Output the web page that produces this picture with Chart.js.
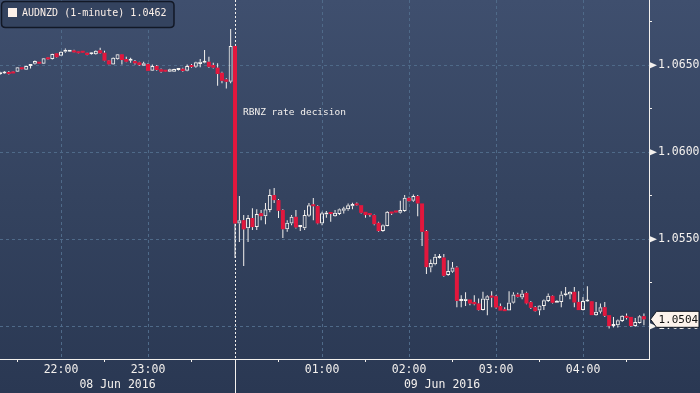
<!DOCTYPE html>
<html><head><meta charset="utf-8">
<script src="https://cdn.jsdelivr.net/npm/chart.js@4.4.0/dist/chart.umd.min.js"></script>
<style>html,body{margin:0;padding:0;background:#2c3a56;overflow:hidden}#wrap{width:700px;height:393px;position:relative}canvas{display:block}</style>
</head><body><div id="wrap"><canvas id="c" width="700" height="393"></canvas></div>
<script>
// ---- data (3-minute candles, minutes relative to 00:00 09 Jun 2016) ----
const firstCandleMinute = -162; // 21:18, 08 Jun
const candleMinutes = 3;
const opens = [
1.06448,1.06453,1.06459,1.06463,1.06463,1.06488,1.06474,1.06496,1.06509,1.06514,
1.06509,1.06543,1.06536,1.06569,1.06555,1.06578,1.06578,1.06584,1.06578,1.06578,
1.06572,1.06563,1.06563,1.06586,1.06572,1.06528,1.06505,1.06534,1.06563,1.06536,
1.06526,1.06524,1.06517,1.06497,1.06507,1.06468,1.06496,1.06477,1.06468,1.06463,
1.06463,1.06473,1.06480,1.06468,1.06497,1.06491,1.06507,1.06514,1.06520,1.06501,
1.06486,1.06457,1.06419,1.06405,1.06610,1.05591,1.05610,1.05564,1.05622,1.05570,
1.05650,1.05633,1.05668,1.05754,1.05725,1.05668,1.05558,1.05591,1.05629,1.05570,
1.05564,1.05635,1.05696,1.05691,1.05591,1.05643,1.05649,1.05633,1.05645,1.05664,
1.05672,1.05690,1.05698,1.05696,1.05658,1.05648,1.05639,1.05595,1.05547,1.05577,
1.05658,1.05658,1.05652,1.05662,1.05738,1.05721,1.05748,1.05706,1.05548,1.05338,
1.05357,1.05393,1.05395,1.05294,1.05313,1.05338,1.05146,1.05146,1.05154,1.05140,
1.05131,1.05093,1.05150,1.05173,1.05173,1.05116,1.05093,1.05090,1.05135,1.05183,
1.05165,1.05192,1.05139,1.05110,1.05090,1.05116,1.05146,1.05175,1.05135,1.05140,
1.05179,1.05183,1.05198,1.05140,1.05093,1.05142,1.05144,1.05064,1.05083,1.05110,
1.05064,1.05001,1.05006,1.05031,1.05060,1.05054,1.05002,1.05019,1.05058];
const highs = [
1.06463,1.06467,1.06467,1.06465,1.06490,1.06490,1.06497,1.06504,1.06528,1.06516,
1.06541,1.06546,1.06566,1.06570,1.06580,1.06597,1.06584,1.06589,1.06579,1.06579,
1.06573,1.06574,1.06586,1.06601,1.06584,1.06530,1.06546,1.06565,1.06565,1.06549,
1.06543,1.06530,1.06520,1.06520,1.06511,1.06505,1.06501,1.06482,1.06470,1.06480,
1.06480,1.06480,1.06486,1.06505,1.06507,1.06520,1.06536,1.06588,1.06549,1.06514,
1.06511,1.06463,1.06425,1.06708,1.06610,1.05748,1.05639,1.05639,1.05679,1.05673,
1.05668,1.05708,1.05788,1.05794,1.05731,1.05673,1.05610,1.05639,1.05668,1.05581,
1.05668,1.05708,1.05737,1.05696,1.05658,1.05663,1.05650,1.05668,1.05677,1.05687,
1.05706,1.05710,1.05712,1.05696,1.05658,1.05648,1.05643,1.05600,1.05585,1.05663,
1.05658,1.05660,1.05721,1.05754,1.05744,1.05758,1.05754,1.05706,1.05553,1.05384,
1.05415,1.05415,1.05415,1.05380,1.05370,1.05345,1.05179,1.05196,1.05154,1.05179,
1.05160,1.05198,1.05179,1.05202,1.05179,1.05131,1.05110,1.05202,1.05196,1.05192,
1.05208,1.05198,1.05146,1.05116,1.05121,1.05154,1.05189,1.05179,1.05150,1.05202,
1.05226,1.05202,1.05226,1.05202,1.05169,1.05230,1.05146,1.05140,1.05131,1.05140,
1.05064,1.05054,1.05039,1.05064,1.05073,1.05054,1.05048,1.05064,1.05073];
const lows = [
1.06444,1.06450,1.06447,1.06452,1.06461,1.06475,1.06473,1.06482,1.06505,1.06507,
1.06507,1.06532,1.06533,1.06543,1.06553,1.06572,1.06576,1.06572,1.06567,1.06570,
1.06557,1.06560,1.06560,1.06566,1.06523,1.06503,1.06503,1.06532,1.06505,1.06517,
1.06514,1.06505,1.06497,1.06496,1.06467,1.06467,1.06468,1.06457,1.06461,1.06461,
1.06461,1.06470,1.06463,1.06465,1.06486,1.06486,1.06488,1.06511,1.06486,1.06482,
1.06382,1.06396,1.06367,1.06396,1.05392,1.05485,1.05346,1.05484,1.05553,1.05553,
1.05610,1.05587,1.05656,1.05708,1.05622,1.05508,1.05543,1.05581,1.05562,1.05547,
1.05553,1.05629,1.05610,1.05587,1.05581,1.05623,1.05600,1.05629,1.05639,1.05648,
1.05664,1.05672,1.05692,1.05648,1.05623,1.05629,1.05581,1.05543,1.05543,1.05575,
1.05639,1.05652,1.05648,1.05658,1.05715,1.05715,1.05633,1.05462,1.05300,1.05311,
1.05351,1.05390,1.05284,1.05290,1.05307,1.05110,1.05110,1.05116,1.05121,1.05121,
1.05090,1.05090,1.05064,1.05110,1.05102,1.05090,1.05087,1.05090,1.05131,1.05165,
1.05156,1.05127,1.05100,1.05083,1.05064,1.05093,1.05140,1.05131,1.05135,1.05110,
1.05173,1.05156,1.05110,1.05093,1.05090,1.05140,1.05064,1.05060,1.05073,1.05054,
1.04987,1.04993,1.04993,1.05025,1.05039,1.04997,1.04997,1.05016,1.05006];
const closes = [
1.06459,1.06463,1.06450,1.06453,1.06488,1.06477,1.06496,1.06501,1.06524,1.06509,
1.06540,1.06534,1.06565,1.06546,1.06578,1.06589,1.06582,1.06574,1.06569,1.06572,
1.06559,1.06572,1.06584,1.06569,1.06526,1.06505,1.06543,1.06563,1.06530,1.06520,
1.06528,1.06511,1.06501,1.06511,1.06468,1.06496,1.06473,1.06463,1.06463,1.06477,
1.06478,1.06477,1.06467,1.06496,1.06490,1.06517,1.06520,1.06524,1.06491,1.06486,
1.06450,1.06411,1.06405,1.06610,1.05591,1.05610,1.05557,1.05622,1.05570,1.05645,
1.05633,1.05673,1.05754,1.05725,1.05664,1.05558,1.05595,1.05629,1.05568,1.05575,
1.05639,1.05696,1.05690,1.05591,1.05650,1.05652,1.05645,1.05652,1.05673,1.05679,
1.05696,1.05702,1.05695,1.05652,1.05639,1.05639,1.05587,1.05547,1.05581,1.05658,
1.05648,1.05654,1.05668,1.05738,1.05719,1.05748,1.05706,1.05543,1.05340,1.05364,
1.05399,1.05397,1.05290,1.05318,1.05338,1.05146,1.05154,1.05158,1.05131,1.05127,
1.05093,1.05160,1.05173,1.05165,1.05108,1.05090,1.05087,1.05137,1.05183,1.05169,
1.05189,1.05131,1.05106,1.05087,1.05120,1.05150,1.05175,1.05135,1.05146,1.05183,
1.05189,1.05198,1.05137,1.05093,1.05146,1.05146,1.05064,1.05083,1.05110,1.05060,
1.05001,1.05012,1.05035,1.05060,1.05048,1.05002,1.05025,1.05058,1.05040];

// ---- axis / text content ----
const hourTickMinutes = [-120, -60, 60, 120, 180, 240];
const hourTickLabels = ['22:00', '23:00', '01:00', '02:00', '03:00', '04:00'];
const halfHourTickMinutes = [-150, -90, -30, 30, 90, 150, 210, 270];
const dayBreakMinute = 0;
const dateLabels = ['08 Jun 2016', '09 Jun 2016'];
const yMajorTicks = [1.0500, 1.0550, 1.0600, 1.0650];
const yMinorTicks = [1.0525, 1.0575, 1.0625, 1.0675];
const legendText = 'AUDNZD (1-minute) 1.0462';
const annotationText = 'RBNZ rate decision';
const lastPriceLabel = '1.0504';

// ---- view / style ----
const xMin = -162.07, xMax = 285.5;
const yMin = 1.04812, yMax = 1.06875;
const RED = '#e2173d';
const WHITE = '#f4f1ee';
const GRID = '#4f6a89';
const FONT = "'DejaVu Sans Mono', 'Liberation Mono', monospace";
const CLEAR = 'rgba(0,0,0,0)';

const times = opens.map((_, i) => firstCandleMinute + i * candleMinutes);
const isUp = i => closes[i] >= opens[i];
const bodies = opens.map((o, i) => ({x: times[i], y: [o, closes[i]]}));
const upperWicks = opens.map((o, i) => { const top = Math.max(o, closes[i]); return {x: times[i], y: [top, Math.max(highs[i], top)]}; });
const lowerWicks = opens.map((o, i) => { const bot = Math.min(o, closes[i]); return {x: times[i], y: [Math.min(lows[i], bot), bot]}; });

const near = (a, b) => Math.abs(a - b) < 1e-7;
const isMajorY = v => yMajorTicks.some(m => near(m, v));

const bgPlugin = {
  id: 'bg',
  beforeDraw(chart) {
    const {ctx, width, height} = chart;
    const g = ctx.createLinearGradient(0, 0, 0, height);
    g.addColorStop(0, '#3f4f6e');
    g.addColorStop(0.5, '#34435f');
    g.addColorStop(1, '#2a3853');
    ctx.save(); ctx.fillStyle = g; ctx.fillRect(0, 0, width, height); ctx.restore();
  },
  beforeDatasetsDraw(chart) {
    const {ctx, chartArea, scales: {x}} = chart;
    const px = Math.round(x.getPixelForValue(dayBreakMinute)) + 0.5;
    ctx.save();
    ctx.strokeStyle = WHITE; ctx.lineWidth = 1;
    ctx.setLineDash([2, 2]);
    ctx.beginPath(); ctx.moveTo(px, chartArea.top); ctx.lineTo(px, chartArea.bottom); ctx.stroke();
    ctx.setLineDash([]);
    ctx.beginPath(); ctx.moveTo(px, chartArea.bottom); ctx.lineTo(px, chart.height); ctx.stroke();
    ctx.restore();
  },
  afterDraw(chart) {
    const {ctx, chartArea, scales: {x, y}} = chart;
    ctx.save();
    // y major markers
    ctx.fillStyle = WHITE;
    yMajorTicks.forEach(v => {
      const py = y.getPixelForValue(v);
      ctx.beginPath(); ctx.moveTo(chartArea.right, py - 3.5); ctx.lineTo(chartArea.right, py + 3.5); ctx.lineTo(chartArea.right + 8, py); ctx.closePath(); ctx.fill();
    });
    // date labels
    ctx.font = '11.5px ' + FONT; ctx.textAlign = 'center'; ctx.textBaseline = 'middle'; ctx.fillStyle = WHITE;
    const pBreak = x.getPixelForValue(dayBreakMinute);
    ctx.fillText(dateLabels[0], (chartArea.left + pBreak) / 2, 385);
    ctx.fillText(dateLabels[1], (pBreak + chartArea.right) / 2, 385);
    // annotation
    ctx.font = '9.5px ' + FONT; ctx.textAlign = 'left'; ctx.textBaseline = 'alphabetic';
    ctx.fillText(annotationText, pBreak + 8, 115);
    // legend box
    ctx.font = '10px ' + FONT; ctx.textBaseline = 'middle';
    const tw = ctx.measureText(legendText).width;
    const bx = 1.5, by = 1.5, bw = 22 + tw + 6, bh = 26, r = 4;
    ctx.beginPath();
    ctx.moveTo(bx + r, by); ctx.lineTo(bx + bw - r, by); ctx.quadraticCurveTo(bx + bw, by, bx + bw, by + r);
    ctx.lineTo(bx + bw, by + bh - r); ctx.quadraticCurveTo(bx + bw, by + bh, bx + bw - r, by + bh);
    ctx.lineTo(bx + r, by + bh); ctx.quadraticCurveTo(bx, by + bh, bx, by + bh - r);
    ctx.lineTo(bx, by + r); ctx.quadraticCurveTo(bx, by, bx + r, by); ctx.closePath();
    ctx.fillStyle = '#34435f'; ctx.fill();
    ctx.strokeStyle = '#121826'; ctx.lineWidth = 1.5; ctx.stroke();
    ctx.fillStyle = '#fdf1ea'; ctx.fillRect(8, 8, 9, 9);
    ctx.fillText(legendText, 22, 13.5);
    // last price tag
    const lastClose = closes[closes.length - 1];
    const ty = y.getPixelForValue(lastClose);
    const ax = chartArea.right + 1.5;
    ctx.beginPath();
    ctx.moveTo(ax, ty); ctx.lineTo(ax + 6, ty - 8); ctx.lineTo(699, ty - 8); ctx.lineTo(699, ty + 8); ctx.lineTo(ax + 6, ty + 8); ctx.closePath();
    ctx.fillStyle = '#fdf3ec'; ctx.fill();
    ctx.strokeStyle = '#0f1520'; ctx.lineWidth = 1; ctx.stroke();
    ctx.fillStyle = '#111111'; ctx.font = '11px ' + FONT; ctx.textAlign = 'left'; ctx.textBaseline = 'middle';
    ctx.fillText(lastPriceLabel, ax + 8, ty + 0.5);
    ctx.restore();
  }
};

new Chart(document.getElementById('c'), {
  type: 'bar',
  data: {
    datasets: [
      { label: 'body', data: bodies, grouped: false, barThickness: 4, minBarLength: 2, borderSkipped: false, inflateAmount: 0,
        backgroundColor: c => isUp(c.dataIndex) ? CLEAR : RED,
        borderColor: WHITE,
        borderWidth: c => isUp(c.dataIndex) ? 1 : 0 },
      { label: 'upper', data: upperWicks, grouped: false, barThickness: 1, inflateAmount: 0, backgroundColor: WHITE, borderWidth: 0 },
      { label: 'lower', data: lowerWicks, grouped: false, barThickness: 1, inflateAmount: 0, backgroundColor: WHITE, borderWidth: 0 }
    ]
  },
  options: {
    responsive: false, animation: false, devicePixelRatio: 1,
    layout: { padding: 0 },
    plugins: { legend: { display: false }, tooltip: { enabled: false } },
    scales: {
      x: {
        type: 'linear', position: 'bottom', min: xMin, max: xMax, offset: false,
        afterBuildTicks: s => { s.ticks = [...hourTickMinutes, dayBreakMinute, ...halfHourTickMinutes].sort((a, b) => a - b).map(v => ({value: v})); },
        afterFit: s => { s.height = 34; s.paddingLeft = 0; s.paddingRight = 0; },
        ticks: { autoSkip: false, maxRotation: 0, minRotation: 0, padding: 1, color: WHITE, font: { family: FONT, size: 11.5 },
          callback: v => { const k = hourTickMinutes.indexOf(v); return k >= 0 ? hourTickLabels[k] : ''; } },
        grid: { offset: false, lineWidth: 1, tickLength: 3,
          color: c => (c.tick && hourTickMinutes.includes(c.tick.value)) ? GRID : CLEAR,
          tickColor: c => (c.tick && halfHourTickMinutes.includes(c.tick.value)) ? WHITE : CLEAR },
        border: { display: true, color: WHITE, width: 1, dash: [3, 3] }
      },
      y: {
        type: 'linear', position: 'right', min: yMin, max: yMax,
        afterBuildTicks: s => { s.ticks = [...yMajorTicks, ...yMinorTicks].sort((a, b) => a - b).map(v => ({value: v})); },
        afterFit: s => { s.width = 51; s.paddingTop = 0; s.paddingBottom = 0; },
        ticks: { padding: 6, color: WHITE, font: { family: FONT, size: 11.5 },
          callback: v => isMajorY(v) ? v.toFixed(4) : '' },
        grid: { lineWidth: 1, tickLength: 3,
          color: c => (c.tick && isMajorY(c.tick.value)) ? GRID : CLEAR,
          tickColor: c => (c.tick && !isMajorY(c.tick.value)) ? WHITE : CLEAR },
        border: { display: true, color: WHITE, width: 1, dash: [3, 3] }
      }
    }
  },
  plugins: [bgPlugin]
});
</script></body></html>
